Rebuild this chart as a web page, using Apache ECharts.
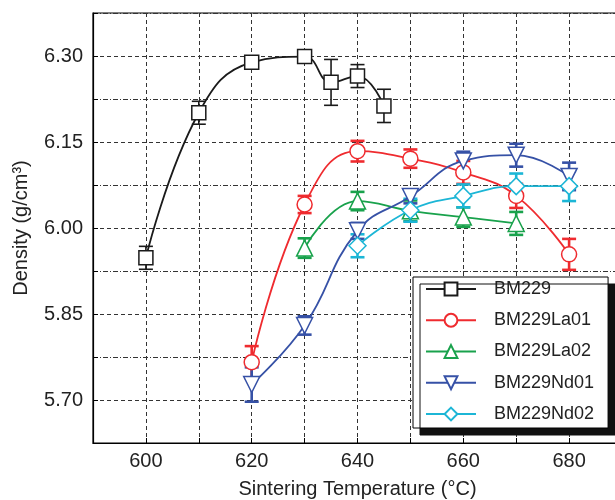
<!DOCTYPE html>
<html>
<head>
<meta charset="utf-8">
<script src="https://cdn.jsdelivr.net/npm/echarts@6/dist/echarts.min.js"></script>
<style>
  html, body { margin: 0; padding: 0; background: #fff; }
  #main { width: 615px; height: 500px; }
</style>
</head>
<body>
<div id="main"></div>
<script>
// data
var names = ['BM229', 'BM229La01', 'BM229La02', 'BM229Nd01', 'BM229Nd02'];
var colors = ['#1a1a1a', '#ef2b2f', '#19a24c', '#3651a6', '#1cb6d6'];

var bmX    = [600, 610, 620, 630, 635, 640, 645];
var bmY    = [5.948, 6.201, 6.289, 6.299, 6.254, 6.265, 6.213];
var bmErr  = [0.020, 0.020, 0.011, 0.010, 0.040, 0.020, 0.029];

var la1X   = [620, 630, 640, 650, 660, 670, 680];
var la1Y   = [5.766, 6.041, 6.134, 6.121, 6.097, 6.056, 5.954];
var la1Err = [0.028, 0.015, 0.018, 0.016, 0.020, 0.021, 0.027];

var la2X   = [630, 640, 650, 660, 670];
var la2Y   = [5.965, 6.047, 6.030, 6.019, 6.008];
var la2Err = [0.017, 0.016, 0.018, 0.017, 0.020];

var nd1X   = [620, 630, 640, 650, 660, 670, 680];
var nd1Y   = [5.727, 5.830, 5.995, 6.055, 6.117, 6.127, 6.090];
var nd1Err = [0.030, 0.016, 0.014, 0.012, 0.016, 0.020, 0.024];

var nd2X   = [640, 650, 660, 670, 680];
var nd2Y   = [5.969, 6.031, 6.056, 6.073, 6.073];
var nd2Err = [0.020, 0.020, 0.020, 0.022, 0.026];

var xLabels = [600, 620, 640, 660, 680];
var yLabels = ['5.70', '5.85', '6.00', '6.15', '6.30'];

var FONT = 'Liberation Sans';

function pairs(xs, ys) {
  return xs.map(function (x, i) { return [x, ys[i]]; });
}
function triples(xs, ys, es) {
  return xs.map(function (x, i) { return [x, ys[i], es[i]]; });
}

function errorSeries(xs, ys, es, color, width) {
  return {
    type: 'custom',
    z: 1,
    silent: true,
    data: triples(xs, ys, es),
    encode: { x: 0, y: 1 },
    renderItem: function (params, api) {
      var x = api.value(0), y = api.value(1), e = api.value(2);
      var top = api.coord([x, y + e]);
      var bot = api.coord([x, y - e]);
      var hw = 7;
      var st = { stroke: color, lineWidth: width };
      return {
        type: 'group',
        children: [
          { type: 'line', shape: { x1: top[0], y1: top[1], x2: bot[0], y2: bot[1] }, style: st },
          { type: 'line', shape: { x1: top[0] - hw, y1: top[1], x2: top[0] + hw, y2: top[1] }, style: st },
          { type: 'line', shape: { x1: bot[0] - hw, y1: bot[1], x2: bot[0] + hw, y2: bot[1] }, style: st }
        ]
      };
    }
  };
}

function lineSeries(name, xs, ys, color, symbol, size, rotate, lw) {
  return {
    name: name,
    type: 'line',
    z: 3,
    smooth: 0.45,
    data: pairs(xs, ys),
    symbol: symbol,
    symbolSize: size,
    symbolRotate: rotate,
    lineStyle: { color: color, width: lw },
    itemStyle: { color: '#fff', borderColor: color, borderWidth: 1.5 }
  };
}

var chart = echarts.init(document.getElementById('main'));

var errs = [
  errorSeries(bmX, bmY, bmErr, colors[0], 1.6),
  errorSeries(la1X, la1Y, la1Err, colors[1], 2.6),
  errorSeries(la2X, la2Y, la2Err, colors[2], 2.6),
  errorSeries(nd1X, nd1Y, nd1Err, colors[3], 2.6),
  errorSeries(nd2X, nd2Y, nd2Err, colors[4], 2.6)
];
// major horizontal grid lines (dashed) at the labelled values
errs[0].markLine = {
  silent: true,
  symbol: 'none',
  z: 0,
  label: { show: false },
  lineStyle: { color: '#333', type: [4, 3], width: 1 },
  data: yLabels.map(function (s) { return { yAxis: parseFloat(s) }; })
};

var option = {
  animation: false,
  backgroundColor: '#fff',
  grid: {
    left: 93, top: 13, width: 529, height: 430,
    outerBoundsMode: 'none',
    containLabel: false,
    show: true, borderColor: '#000', borderWidth: 1.2
  },
  legend: {
    orient: 'vertical',
    left: 413, top: 277,
    data: names,
    itemWidth: 50,
    itemHeight: 16,
    itemGap: 13.25,
    padding: [3, 14, 5, 12],
    backgroundColor: '#fff',
    borderColor: '#000',
    borderWidth: 1,
    borderRadius: 0,
    shadowColor: '#111',
    shadowBlur: 0,
    shadowOffsetX: 7,
    shadowOffsetY: 7,
    textStyle: { fontFamily: FONT, fontSize: 18, color: '#222', padding: [0, 0, 0, 13] }
  },
  xAxis: {
    type: 'value',
    min: 590, max: 690, interval: 10,
    name: 'Sintering Temperature (°C)',
    nameLocation: 'middle',
    nameGap: 36,
    nameTextStyle: { fontFamily: FONT, fontSize: 20, color: '#222' },
    axisLine: { lineStyle: { color: '#000', width: 1.2 } },
    axisTick: { show: true, inside: true, length: 5, lineStyle: { color: '#000' } },
    axisLabel: {
      fontFamily: FONT, fontSize: 20, color: '#222', margin: 8,
      formatter: function (v) { return xLabels.indexOf(v) >= 0 ? String(v) : ''; }
    },
    splitLine: { show: true, lineStyle: { color: '#333', type: [4, 3], width: 1 } }
  },
  yAxis: [{
    type: 'value',
    min: 5.625, max: 6.375, interval: 0.075,
    name: 'Density (g/cm³)',
    nameLocation: 'middle',
    nameGap: 62,
    nameTextStyle: { fontFamily: FONT, fontSize: 20, color: '#222' },
    axisLine: { show: true, lineStyle: { color: '#000', width: 1.2 } },
    axisTick: { show: true, inside: true, length: 5, lineStyle: { color: '#000' } },
    axisLabel: {
      fontFamily: FONT, fontSize: 20, color: '#222', margin: 10,
      formatter: function (v) { var s = v.toFixed(2); return yLabels.indexOf(s) >= 0 ? s : ''; }
    },
    splitLine: { show: false }
  }, {
    // minor horizontal grid lines (dash-dot), same scale as the main axis
    type: 'value',
    position: 'left',
    min: 5.625, max: 6.375, interval: 0.15,
    axisLine: { show: false },
    axisTick: { show: false },
    axisLabel: { show: false },
    splitLine: { show: true, lineStyle: { color: '#333', type: [5, 2, 1, 2], width: 1 } }
  }],
  series: errs.concat([
    lineSeries(names[0], bmX, bmY, colors[0], 'rect', 14, 0, 1.8),
    lineSeries(names[1], la1X, la1Y, colors[1], 'circle', 15, 0, 1.8),
    lineSeries(names[2], la2X, la2Y, colors[2], 'triangle', 16, 0, 1.8),
    lineSeries(names[3], nd1X, nd1Y, colors[3], 'triangle', 16, 180, 1.8),
    lineSeries(names[4], nd2X, nd2Y, colors[4], 'diamond', 17, 0, 1.8)
  ])
};

chart.setOption(option);
</script>
</body>
</html>
